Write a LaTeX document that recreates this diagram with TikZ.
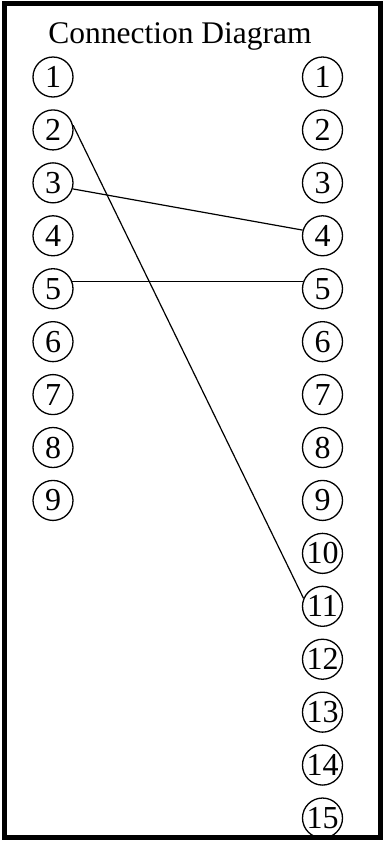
\documentclass[tikz,border=0pt]{standalone}
\usepackage{fontspec}
\setmainfont{Liberation Serif}
\begin{document}
\begin{tikzpicture}[x=1pt,y=1pt,
  pin/.style={draw, circle, line width=1.3pt, minimum size=40pt, inner sep=0pt,
    font=\fontsize{32}{32}\selectfont},
  wire/.style={line width=1.2pt}]
\useasboundingbox (0,0) rectangle (384,-841);
\node[anchor=base, font=\fontsize{31.5}{32}\selectfont] (title) at (180,-43) {Connection Diagram};
\foreach \i in {1,...,9} {
  \node[pin] (l\i) at (53,{-77-(\i-1)*52.93}) {\i};
}
\foreach \i in {1,...,15} {
  \node[pin] (r\i) at (322.5,{-77-(\i-1)*52.93}) {\i};
}
\draw[wire] (l2.13) -- (r11.157);
\draw[wire] (l3.-17) -- (r4.164);
\draw[wire] (l5.20) -- (r5.160);
\draw[line width=5pt] (4,-3) rectangle (380.5,-837.5);
\end{tikzpicture}
\end{document}
